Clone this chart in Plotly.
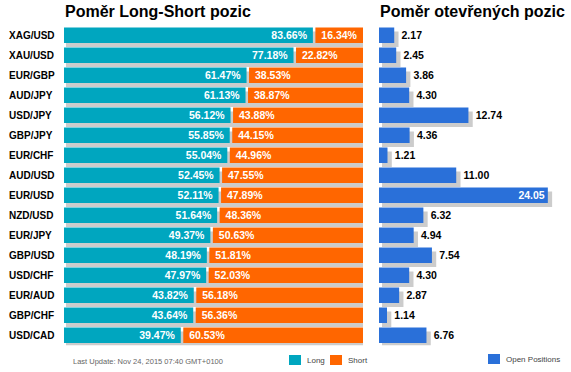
import plotly.graph_objects as go

# ---- data ----
pairs = ["XAG/USD", "XAU/USD", "EUR/GBP", "AUD/JPY", "USD/JPY", "GBP/JPY", "EUR/CHF", "AUD/USD",
         "EUR/USD", "NZD/USD", "EUR/JPY", "GBP/USD", "USD/CHF", "EUR/AUD", "GBP/CHF", "USD/CAD"]
long_pct = [83.66, 77.18, 61.47, 61.13, 56.12, 55.85, 55.04, 52.45,
            52.11, 51.64, 49.37, 48.19, 47.97, 43.82, 43.64, 39.47]
short_pct = [16.34, 22.82, 38.53, 38.87, 43.88, 44.15, 44.96, 47.55,
             47.89, 48.36, 50.63, 51.81, 52.03, 56.18, 56.36, 60.53]
open_pos = [2.17, 2.45, 3.86, 4.30, 12.74, 4.36, 1.21, 11.00,
            24.05, 6.32, 4.94, 7.54, 4.30, 2.87, 1.14, 6.76]

title_left = "Poměr Long-Short pozic"
title_right = "Poměr otevřených pozic"
footer = "Last Update: Nov 24, 2015 07:40 GMT+0100"

# ---- styling / layout constants (pixels) ----
W, H = 571, 372
L0, L1 = 64, 363
R0, R1, R_SCALE = 379, 561, 7.02
ROW_TOP, ROW_BOT = 25.3, 345.3
TEAL, ORANGE, BLUE, SHADOW = "#00A6BF", "#FF6600", "#2A70D9", "#CCCCCC"
FONT = "Arial, Liberation Sans, sans-serif"
NB = "\u00a0"

lu = (L1 - L0) / 100.0          # px per percent
r_range = (R1 - R0) / R_SCALE
gap = 2.5 / lu                   # white gap between long and short
bw = 0.775
sh_dy = 0.2                      # shadow offset down (rows)

n = len(pairs)
ys = list(range(n))

fig = go.Figure()

# left shadow
totals = [a + b for a, b in zip(long_pct, short_pct)]
fig.add_trace(go.Bar(
    y=ys, x=[t + 2.0 / lu for t in totals], base=[2.0 / lu] * n, orientation="h",
    width=bw, offset=-bw / 2 + sh_dy, marker=dict(color=SHADOW, line=dict(width=0)),
    xaxis="x", yaxis="y", hoverinfo="skip", cliponaxis=False, showlegend=False))
# long
fig.add_trace(go.Bar(
    y=ys, x=[v - gap / 2 for v in long_pct], orientation="h", width=bw,
    marker=dict(color=TEAL, line=dict(width=0)),
    text=[f"{v:.2f}%{NB}" for v in long_pct], textposition="inside", insidetextanchor="end",
    constraintext="none",
    textfont=dict(color="white", size=10.5, family=FONT, weight="bold"),
    xaxis="x", yaxis="y", name="Long", showlegend=False))
# short
fig.add_trace(go.Bar(
    y=ys, x=[v - gap / 2 for v in short_pct], base=[v + gap / 2 for v in long_pct],
    orientation="h", width=bw, marker=dict(color=ORANGE, line=dict(width=0)),
    text=[f"{NB}{v:.2f}%" for v in short_pct], textposition="inside", insidetextanchor="start",
    constraintext="none",
    textfont=dict(color="white", size=10.5, family=FONT, weight="bold"),
    xaxis="x", yaxis="y", name="Short", showlegend=False))

# right chart
vmax = max(open_pos)
pos_in = ["inside" if v == vmax else "outside" for v in open_pos]
sb = 3.0 / R_SCALE
fig.add_trace(go.Bar(
    y=ys, x=[v + 4.3 / R_SCALE - sb for v in open_pos], base=[sb] * n, orientation="h",
    width=bw, offset=-bw / 2 + sh_dy, marker=dict(color=SHADOW, line=dict(width=0)),
    xaxis="x2", yaxis="y2", hoverinfo="skip", cliponaxis=False, showlegend=False))
# transparent carrier for outside value labels (placed past the shadow)
fig.add_trace(go.Bar(
    y=ys, x=[v + 4.3 / R_SCALE for v in open_pos], orientation="h", width=bw,
    marker=dict(color="rgba(0,0,0,0)", line=dict(width=0)),
    text=[f"{v:.2f}" if p == "outside" else "" for v, p in zip(open_pos, pos_in)],
    textposition="outside", constraintext="none",
    textfont=dict(color="black", size=10.5, family=FONT, weight="bold"),
    xaxis="x2", yaxis="y2", hoverinfo="skip", cliponaxis=False, showlegend=False))
fig.add_trace(go.Bar(
    y=ys, x=open_pos, orientation="h", width=bw,
    marker=dict(color=BLUE, line=dict(width=0)),
    text=[f"{v:.2f}" if p == "inside" else "" for v, p in zip(open_pos, pos_in)],
    textposition="inside", insidetextanchor="end", constraintext="none",
    textfont=dict(color="white", size=10.5, family=FONT, weight="bold"),
    xaxis="x2", yaxis="y2", name="Open Positions", showlegend=False))

ydom = [1 - ROW_BOT / H, 1 - ROW_TOP / H]
yr = [n - 0.5, -0.5]
fig.update_layout(
    width=W, height=H, margin=dict(l=0, r=0, t=0, b=0),
    paper_bgcolor="white", plot_bgcolor="white", barmode="overlay",
    font=dict(family=FONT),
    xaxis=dict(domain=[L0 / W, L1 / W], range=[0, 100], visible=False, fixedrange=True),
    yaxis=dict(domain=ydom, range=yr, visible=False, fixedrange=True),
    xaxis2=dict(domain=[R0 / W, R1 / W], range=[0, r_range], visible=False, fixedrange=True),
    yaxis2=dict(domain=ydom, range=yr, visible=False, anchor="x2", fixedrange=True),
)

ann = []
for i, p in enumerate(pairs):
    ann.append(dict(xref="paper", yref="y", x=7 / W, y=i, text=p, showarrow=False,
                    xanchor="left", yanchor="middle",
                    font=dict(size=10, color="black", family=FONT, weight="bold")))
for x0, t in [(L0, title_left), (R0, title_right)]:
    ann.append(dict(xref="paper", yref="paper", x=(x0 - 1) / W, y=1 - 12 / H, text=t,
                    showarrow=False, xanchor="left", yanchor="middle",
                    font=dict(size=16, color="black", family=FONT, weight="bold")))
ann.append(dict(xref="paper", yref="paper", x=71 / W, y=1 - 361 / H, text=footer,
                showarrow=False, xanchor="left", yanchor="middle",
                font=dict(size=7.5, color="#666666", family=FONT)))

shapes = []
legend_items = [(289, 355, TEAL, "Long"), (330, 355, ORANGE, "Short"),
                (488, 354, BLUE, "Open Positions")]
for x0, y0, c, t in legend_items:
    shapes.append(dict(type="rect", xref="paper", yref="paper",
                       x0=x0 / W, x1=(x0 + 12) / W, y0=1 - (y0 + 10) / H, y1=1 - y0 / H,
                       fillcolor=c, line=dict(width=0)))
    ann.append(dict(xref="paper", yref="paper", x=(x0 + 16) / W, y=1 - (y0 + 5) / H, text=t,
                    showarrow=False, xanchor="left", yanchor="middle",
                    font=dict(size=8, color="#444444", family=FONT)))

fig.update_layout(annotations=ann, shapes=shapes)
fig.write_html("out.html", config={"displayModeBar": False},
               post_script="document.body.style.margin='0';document.body.style.overflow='hidden';")
